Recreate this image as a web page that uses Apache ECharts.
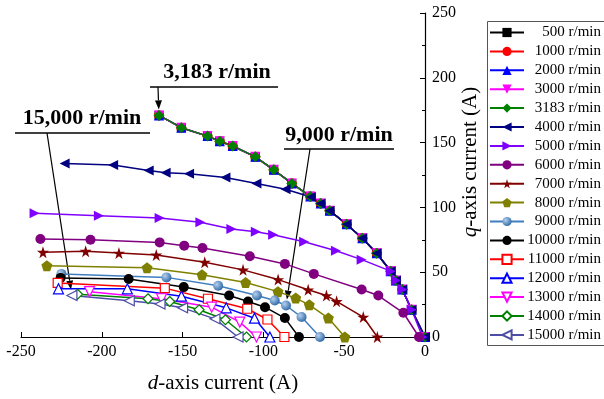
<!DOCTYPE html>
<html>
<head>
<meta charset="utf-8">
<script src="https://cdn.jsdelivr.net/npm/echarts@6/dist/echarts.min.js"></script>
<style>
  html, body { margin: 0; padding: 0; background: #fff; }
  #main { width: 604px; height: 399px; }
</style>
</head>
<body>
<div id="main"></div>
<script>
// legend / series names
var speeds = ['500 r/min', '1000 r/min', '2000 r/min', '3000 r/min', '3183 r/min', '4000 r/min',
  '5000 r/min', '6000 r/min', '7000 r/min', '8000 r/min', '9000 r/min', '10000 r/min',
  '11000 r/min', '12000 r/min', '13000 r/min', '14000 r/min', '15000 r/min'];

// MTPA trajectory, shared by 500 ... 3183 r/min (they lie on top of each other)
var mtpaD = [0, -8.3, -14, -18, -21.2, -29.9, -38.8, -48.5, -59, -64.6, -71, -82.4, -93.6, -105, -119, -127, -134.6, -150.8, -164.6];
var mtpaQ = [0, 21, 36.6, 43.5, 50.8, 64.6, 76.2, 87, 97.5, 103, 108.5, 118.5, 129, 139, 147.4, 151, 155, 161.5, 171];

var d4000 = [0, -8.3, -14, -18, -21.2, -29.9, -38.8, -48.5, -59, -64.6, -70.6, -86.3, -104.3, -123.5, -146, -160.5, -171, -193, -223];
var q4000 = [0, 21, 36.6, 43.5, 50.8, 64.6, 76.2, 87, 97.5, 103, 108, 114, 118.5, 123, 126, 126.8, 128.5, 132.8, 133.8];

var d5000 = [-1.5, -8.3, -14, -18, -21.2, -39.2, -55.1, -74.8, -94, -104.7, -119.8, -139, -164.2, -201.8, -241.6];
var q5000 = [0, 21, 36.6, 43.5, 50.8, 59.7, 66.6, 73.5, 78.9, 81.2, 83.3, 88.5, 91.8, 93.5, 95.4];

var d6000 = [-3.7, -13.4, -28.9, -39.2, -68.8, -86.7, -108.4, -137.7, -149, -164.2, -207, -238];
var q6000 = [0, 18.7, 32, 36.6, 48.7, 56.4, 62.3, 68.7, 70.5, 73, 75, 75.6];

var d7000 = [-29.5, -38.2, -54.7, -61, -72.3, -90.9, -112.6, -136.3, -166.3, -189.4, -210, -236.4];
var q7000 = [0, 15.4, 27.5, 32, 36.4, 44.3, 51.8, 57.7, 63.3, 64.8, 66.2, 65.4];

var d8000 = [-49.6, -59.8, -71.6, -80, -91, -111, -138, -172, -234];
var q8000 = [0, 14.6, 24.8, 30, 35, 42, 48, 53.5, 55];

var d9000 = [-65, -76.4, -86, -93, -104, -128, -160, -225];
var q9000 = [0, 15.4, 24.3, 28.2, 32, 39.5, 46, 48.7];

var d10000 = [-78, -86.7, -99, -109.5, -121.2, -149.3, -183.4, -225.5];
var q10000 = [0, 14.6, 23, 27.4, 32, 38.5, 44.8, 45.6];

var d11000 = [-87, -97.5, -110, -134.3, -161, -227.3];
var q11000 = [0, 13.5, 21.8, 29.5, 37.7, 41.7];

var d12000 = [-96, -105.5, -123, -150.7, -184.2, -226.8];
var q12000 = [0, 14.5, 22.5, 31.5, 37.2, 37.2];

var d13000 = [-104.3, -114.6, -132, -163, -207.6];
var q13000 = [0, 11.5, 23, 29.5, 35];

var d14000 = [-110.5, -123.5, -139.8, -158, -171.4, -215];
var q14000 = [0, 13.3, 21, 27.4, 29.5, 33];

var d15000 = [-115.7, -130, -150, -164, -183, -218.5];
var q15000 = [0, 14, 22.5, 25.5, 28, 32];

var curvesD = [mtpaD, mtpaD, mtpaD, mtpaD, mtpaD, d4000, d5000, d6000, d7000, d8000, d9000, d10000, d11000, d12000, d13000, d14000, d15000];
var curvesQ = [mtpaQ, mtpaQ, mtpaQ, mtpaQ, mtpaQ, q4000, q5000, q6000, q7000, q8000, q9000, q10000, q11000, q12000, q13000, q14000, q15000];

// annotations: label, target point (d, q)
var noteText = ['3,183 r/min', '9,000 r/min', '15,000 r/min'];
var noteTarget = [[-164.6, 171], [-86, 24.3], [-218.5, 32]];

// styling
var FONT = '"Liberation Serif", "Times New Roman", serif';
var triDown = 'path://M0,0L100,0L50,87Z';
var triLeft = 'path://M0,50L87,0L87,100Z';
var triRight = 'path://M87,50L0,0L0,100Z';
var star = 'path://M50,0L61,35L98,35L68,57L79,91L50,70L21,91L32,57L2,35L39,35Z';
var pentagon = 'path://M50,0L98,35L79,91L21,91L2,35Z';

var colors = ['#000000', '#ff0000', '#0000ff', '#ff00ff', '#008000', '#000080', '#8000ff', '#800080',
  '#800000', '#808000', '#3f7fbf', '#000000', '#ff0000', '#0000ff', '#ff00ff', '#008000', '#4d4da6'];
var symbols = ['rect', 'circle', 'triangle', triDown, 'diamond', triLeft, triRight, 'circle',
  star, pentagon, 'circle', 'circle', 'rect', 'triangle', triDown, 'diamond', triLeft];
var sizes = [9, 10, 10, 10, 11, 10, 10, 10, 12, 11, 10, 10, 9, 10, 10, 10, 10];
var hollow = [false, false, false, false, false, false, false, false, false, false, false, false, true, true, true, true, true];

var chart = echarts.init(document.getElementById('main'));

var series = speeds.map(function (name, i) {
  var fill = colors[i];
  if (i === 10) {
    fill = new echarts.graphic.RadialGradient(0.35, 0.35, 0.7, [
      { offset: 0, color: '#b5d0ee' },
      { offset: 1, color: '#2d67a6' }
    ]);
  }
  return {
    name: name,
    type: 'line',
    data: curvesD[i].map(function (d, k) { return [d, curvesQ[i][k]]; }),
    symbol: symbols[i],
    symbolSize: sizes[i],
    showAllSymbol: true,
    lineStyle: { color: colors[i], width: 1.5 },
    itemStyle: hollow[i]
      ? { color: '#ffffff', borderColor: colors[i], borderWidth: 1.2 }
      : { color: fill },
    emphasis: { disabled: true },
    silent: true
  };
});

var option = {
  animation: false,
  backgroundColor: '#fff',
  grid: { left: 21, right: 179, top: 13, bottom: 61 },
  xAxis: {
    type: 'value',
    min: -250, max: 0, interval: 50,
    name: '{i|d}-axis current (A)',
    nameLocation: 'middle',
    nameGap: 36,
    nameTextStyle: {
      fontFamily: FONT, fontSize: 21, color: '#000',
      rich: { i: { fontFamily: FONT, fontSize: 21, fontStyle: 'italic', color: '#000' } }
    },
    axisLine: { onZero: false, lineStyle: { color: '#000', width: 1.2 } },
    axisTick: { inside: true, length: 5, lineStyle: { color: '#000' } },
    axisLabel: { fontFamily: FONT, fontSize: 16, color: '#000', margin: 7 },
    splitLine: { show: false }
  },
  yAxis: {
    type: 'value',
    position: 'right',
    min: 0, max: 250, interval: 50,
    name: '{i|q}-axis current (A)',
    nameLocation: 'middle',
    nameGap: 35,
    nameMoveOverlap: false,
    nameTextStyle: {
      fontFamily: FONT, fontSize: 21, color: '#000',
      padding: [0, 0, 0, 26],
      rich: { i: { fontFamily: FONT, fontSize: 21, fontStyle: 'italic', color: '#000' } }
    },
    axisLine: { show: true, onZero: false, lineStyle: { color: '#000', width: 1.2 } },
    axisTick: { inside: true, length: 5, lineStyle: { color: '#000' } },
    minorTick: { show: true, splitNumber: 2, length: 3, lineStyle: { color: '#000' } },
    axisLabel: { fontFamily: FONT, fontSize: 16, color: '#000', margin: 7 },
    splitLine: { show: false }
  },
  legend: {
    orient: 'vertical',
    left: 487,
    top: 21,
    padding: [4, 0, 4, 2],
    itemWidth: 34,
    itemHeight: 11.5,
    itemGap: 3.9,
    selectedMode: false,
    data: speeds,
    formatter: function (name) { return '{a|' + name + '}'; },
    textStyle: {
      fontFamily: FONT, fontSize: 15, color: '#000',
      rich: { a: { fontFamily: FONT, fontSize: 15, color: '#000', width: 72, align: 'right' } }
    }
  },
  series: series
};

chart.setOption(option);

// legend frame runs past the right edge of the picture
var gfx = [{
  type: 'rect', silent: true,
  shape: { x: 487.5, y: 21.5, width: 140, height: 324 },
  style: { fill: 'none', stroke: '#555', lineWidth: 1 }
}];

// arrows and labels for the highlighted speeds
var noteBox = [
  { tx: 217, ty: 72, ux1: 150, ux2: 278, uy: 87, sx: 158 },
  { tx: 339, ty: 135, ux1: 284, ux2: 394, uy: 149, sx: 310 },
  { tx: 82, ty: 118, ux1: 15, ux2: 150, uy: 133, sx: 47 }
];
noteBox.forEach(function (b, i) {
  var p = chart.convertToPixel({ gridIndex: 0 }, noteTarget[i]);
  var vx = p[0] - b.sx, vy = p[1] - b.uy;
  var len = Math.sqrt(vx * vx + vy * vy);
  var ux = vx / len, uy = vy / len;
  var tip = [b.sx + ux * (len - 6), b.uy + uy * (len - 6)];
  var base = [tip[0] - ux * 9, tip[1] - uy * 9];
  gfx.push({
    type: 'text', silent: true,
    style: { text: noteText[i], x: b.tx, y: b.ty, align: 'center', verticalAlign: 'middle',
      fontFamily: FONT, fontSize: 22, fontWeight: 'bold', fill: '#000' }
  });
  gfx.push({
    type: 'line', silent: true,
    shape: { x1: b.ux1, y1: b.uy, x2: b.ux2, y2: b.uy },
    style: { stroke: '#000', lineWidth: 1.5 }
  });
  gfx.push({
    type: 'line', silent: true,
    shape: { x1: b.sx, y1: b.uy, x2: base[0], y2: base[1] },
    style: { stroke: '#000', lineWidth: 1.2 }
  });
  gfx.push({
    type: 'polygon', silent: true,
    shape: { points: [tip, [base[0] - uy * 3.5, base[1] + ux * 3.5], [base[0] + uy * 3.5, base[1] - ux * 3.5]] },
    style: { fill: '#000' }
  });
});
chart.setOption({ graphic: gfx });
</script>
</body>
</html>
